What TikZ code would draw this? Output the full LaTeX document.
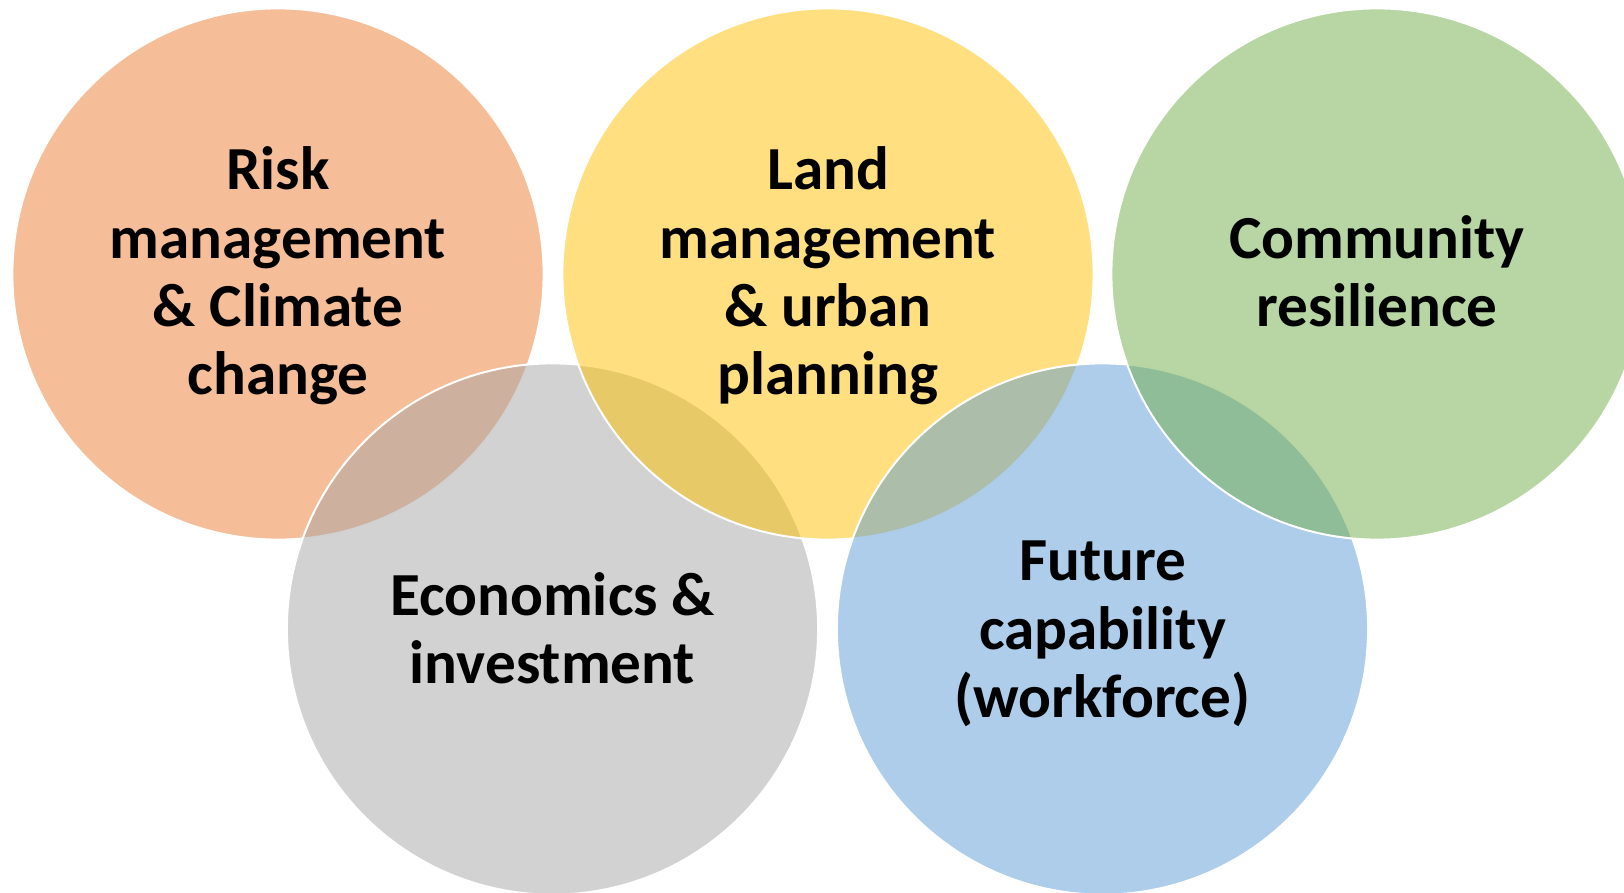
\documentclass[tikz,border=0pt]{standalone}
\usepackage{fontspec}
\setmainfont{Carlito}
\definecolor{riskorange}{HTML}{ED7D31}
\definecolor{landyellow}{HTML}{FFC000}
\definecolor{commgreen}{HTML}{70AD47}
\definecolor{econgray}{HTML}{A5A5A5}
\definecolor{futureblue}{HTML}{5B9BD5}
\begin{document}
\begin{tikzpicture}[x=0.5pt, y=-0.5pt,
    ring/.style = {draw=white, line width=1pt, fill opacity=0.5, draw opacity=1},
    topic/.style = {align=center, font=\fontsize{30.6}{34.2}\selectfont\bfseries}]
            \useasboundingbox (0,0) rectangle (1624,893);
            % circles, drawn in zigzag order
            \filldraw[ring, fill=riskorange] (278,274) circle (265.6);
            \filldraw[ring, fill=econgray] (552.5,629) circle (265.6);
            \filldraw[ring, fill=landyellow] (828,274) circle (265.6);
            \filldraw[ring, fill=futureblue] (1102.5,629) circle (265.6);
            \filldraw[ring, fill=commgreen] (1377,274) circle (265.6);

            \node[topic] (risk) at (278,276) {Risk\\management\\\& Climate\\change};
            \node[topic] (land) at (828,276) {Land\\management\\\& urban\\planning};
            \node[topic] (community) at (1377,271) {Community\\resilience};
            \node[topic] (economics) at (552.5,628) {Economics \&\\investment};
            \node[topic] (future) at (1102.5,634) {Future\\capability\\(workforce)};
        \end{tikzpicture}
\end{document}
